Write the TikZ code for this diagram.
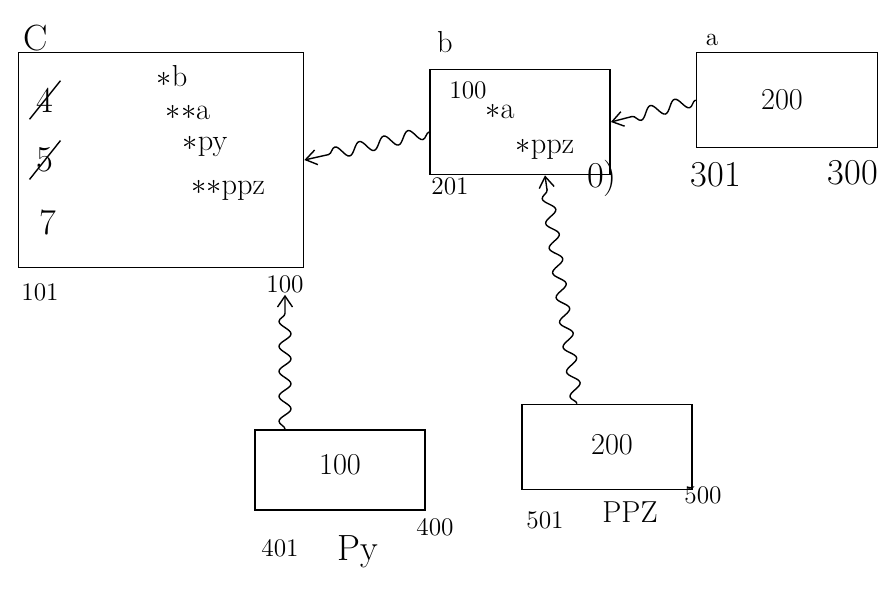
\documentclass[tikz,border=0pt]{standalone}
\usepackage{tikz}
\usetikzlibrary{decorations.pathmorphing,arrows.meta,positioning}
\tikzset{
    membox/.style={draw, rectangle, line width=1pt},
    addr/.style={font=\Large, inner sep=1pt},
    cell/.style={font=\LARGE, inner sep=1pt},
    bigcell/.style={font=\huge, inner sep=1pt},
    ptrlink/.style={thick, -{Straight Barb[length=2.2mm,width=3mm]},
        decorate, decoration={snake, amplitude=1.2mm, segment length=5mm, post length=2.5mm}}
}
\begin{document}
\begin{tikzpicture}[x=0.02cm, y=-0.02cm]
    \useasboundingbox (0,0) rectangle (893,595);
    % Variable c
    \node[membox, minimum width=5.7cm, minimum height=4.3cm] (c) at (161,160) {};
    \node[bigcell] (cname) at (36,38) {C};
    \node[bigcell] (c4) at (45,100) {4};
    \node[bigcell] (c5) at (45,160) {5};
    \node[bigcell] (c7) at (48,222) {7};
    \draw[thick] ([xshift=-1mm,yshift=-1mm]c4.south west) -- ([xshift=1mm,yshift=1mm]c4.north east);
    \draw[thick] ([xshift=-1mm,yshift=-1mm]c5.south west) -- ([xshift=1mm,yshift=1mm]c5.north east);
    \node[cell] (cb) at (172,76) {$*$b};
    \node[cell] (ca) at (188,113) {$**$a};
    \node[cell] (cpy) at (205,147) {$*$py};
    \node[cell] (cppz) at (228,190) {$**$ppz};
    \node[addr] (caddrl) at (40,292) {101};
    \node[addr] (caddrr) at (285,284) {100};

    % Variable b
    \node[membox, minimum width=3.6cm, minimum height=2.1cm] (b) at (520,122) {};
    \node[cell] (bname) at (445,42) {b};
    \node[addr] (bval) at (468,90) {100};
    \node[cell] (ba) at (500,112) {$*$a};
    \node[cell] (bppz) at (545,149) {$*$ppz};
    \node[addr] (baddr) at (450,186) {201};
    \node[font=\huge] (bmark) at (602,178) {0)};

    % Variable a
    \node[membox, minimum width=3.62cm, minimum height=1.9cm] (a) at (787,100) {};
    \node[addr] (aname) at (712,40) {a};
    \node[cell] (aval) at (782,100) {200};
    \node[font=\huge] (aaddrl) at (716,175) {301};
    \node[font=\huge] (aaddrr) at (853,173) {300};

    % Variable py
    \node[membox, minimum width=3.4cm, minimum height=1.6cm] (py) at (340,470) {};
    \node[cell] (pyval) at (340,465) {100};
    \node[addr] (pyaddrl) at (280,548) {401};
    \node[font=\huge] (pyname) at (358,552) {Py};
    \node[addr] (pyaddrr) at (435,527) {400};

    % Variable ppz
    \node[membox, minimum width=3.4cm, minimum height=1.7cm] (ppz) at (607,447) {};
    \node[cell] (ppzval) at (612,445) {200};
    \node[addr] (ppzaddrl) at (545,520) {501};
    \node[font=\LARGE] (ppzname) at (630,512) {PPZ};
    \node[addr] (ppzaddrr) at (703,495) {500};

    % Pointer links
    \draw[ptrlink] (a.west) -- (b.east);
    \draw[ptrlink] ([yshift=-2mm]b.west) -- (c.east);
    \draw[ptrlink] ([xshift=-1.1cm]py.north) -- (caddrr.south);
    \draw[ptrlink] ([xshift=-0.6cm]ppz.north) -- ([xshift=0.5cm]b.south);
\end{tikzpicture}
\end{document}
